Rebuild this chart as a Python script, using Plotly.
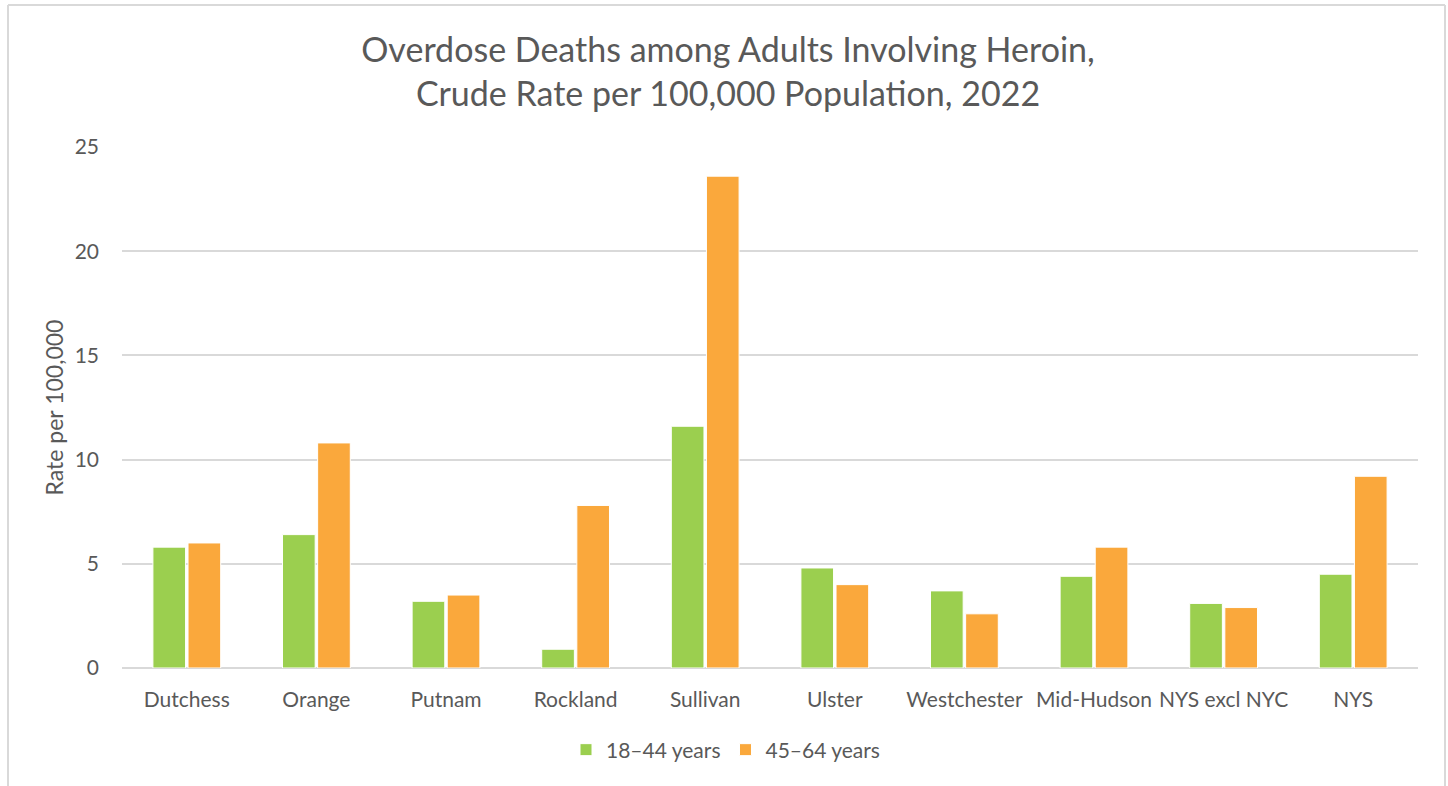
import plotly.graph_objects as go

categories = ["Dutchess", "Orange", "Putnam", "Rockland", "Sullivan", "Ulster",
              "Westchester", "Mid-Hudson", "NYS excl NYC", "NYS"]
rate_18_44 = [5.8, 6.4, 3.2, 0.9, 11.6, 4.8, 3.7, 4.4, 3.1, 4.5]
rate_45_64 = [6.0, 10.8, 3.5, 7.8, 23.6, 4.0, 2.6, 5.8, 2.9, 9.2]
y_ticks = [0, 5, 10, 15, 20, 25]

W, H = 1448, 786
L, R, T, B = 122, 30, 147, 118
PW, PH = W - L - R, H - T - B

FONT = "Lato, 'Open Sans', sans-serif"
TXT = "#595959"
GREEN = "#9bcf4f"
ORANGE = "#faa83c"
GRID = "#d9d9d9"

fig = go.Figure()
fig.add_trace(go.Bar(x=categories, y=rate_18_44, name="18–44 years",
                     marker=dict(color=GREEN, line=dict(color="white", width=1))))
fig.add_trace(go.Bar(x=categories, y=rate_45_64, name="45–64 years",
                     marker=dict(color=ORANGE, line=dict(color="white", width=1))))

def px_x(px):
    return (px - L) / PW

def px_y(py):
    return (H - B - py) / PH

border = dict(color=GRID, width=2)
shapes = [
    dict(type="line", xref="paper", yref="paper", x0=px_x(8), x1=px_x(1445),
         y0=px_y(5), y1=px_y(5), line=border),
    dict(type="line", xref="paper", yref="paper", x0=px_x(8), x1=px_x(8),
         y0=px_y(5), y1=px_y(790), line=border),
    dict(type="line", xref="paper", yref="paper", x0=px_x(1445), x1=px_x(1445),
         y0=px_y(5), y1=px_y(790), line=border),
]

fig.update_layout(
    width=W, height=H,
    margin=dict(l=L, r=R, t=T, b=B, pad=0),
    paper_bgcolor="white", plot_bgcolor="white",
    font=dict(family=FONT, color=TXT),
    title=dict(text="Overdose Deaths among Adults Involving Heroin,<br>Crude Rate per 100,000 Population, 2022",
               x=(728) / W, xref="container", xanchor="center",
               y=1 - 62 / H, yref="container", yanchor="middle",
               font=dict(family=FONT, size=34, color=TXT)),
    barmode="group", bargap=0.458, bargroupgap=0.07,
    xaxis=dict(showgrid=False, showline=False, ticks="",
               tickfont=dict(size=21, color=TXT), ticklabelstandoff=17),
    yaxis=dict(range=[0, 25], tickvals=y_ticks, showgrid=True, gridcolor=GRID, gridwidth=1.5,
               zeroline=True, zerolinecolor=GRID, zerolinewidth=1.5,
               showline=False, ticks="", tickfont=dict(size=21, color=TXT),
               ticklabelstandoff=22,
               title=dict(text="Rate per 100,000", font=dict(size=23, color=TXT), standoff=4)),
    legend=dict(orientation="h", x=px_x(566), xanchor="left", xref="paper",
                y=px_y(750), yanchor="middle",
                font=dict(size=21, color=TXT), itemwidth=30, traceorder="normal"),
    shapes=shapes,
)

fig.write_html("out.html", config={"displayModeBar": False},
               post_script="document.body.style.margin='0';")
